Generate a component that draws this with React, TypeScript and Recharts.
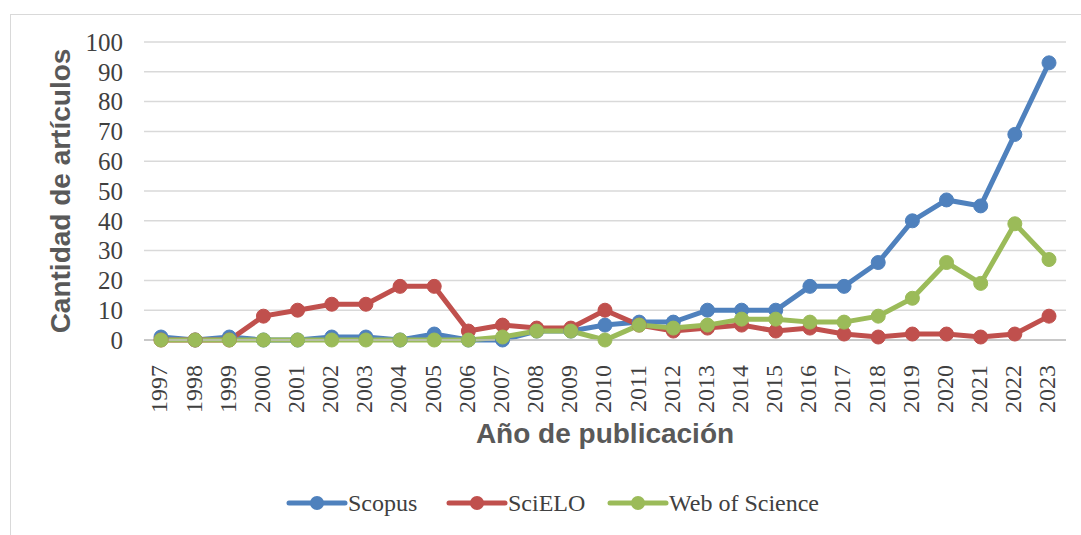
import * as React from "react";
import { CartesianGrid, Legend, Line, LineChart, XAxis, YAxis } from "recharts";

const years = [
  "1997", "1998", "1999", "2000", "2001", "2002", "2003", "2004", "2005",
  "2006", "2007", "2008", "2009", "2010", "2011", "2012", "2013", "2014",
  "2015", "2016", "2017", "2018", "2019", "2020", "2021", "2022", "2023",
];
const scopus = [1, 0, 1, 0, 0, 1, 1, 0, 2, 0, 0, 3, 3, 5, 6, 6, 10, 10, 10, 18, 18, 26, 40, 47, 45, 69, 93];
const scielo = [0, 0, 0, 8, 10, 12, 12, 18, 18, 3, 5, 4, 4, 10, 5, 3, 4, 5, 3, 4, 2, 1, 2, 2, 1, 2, 8];
const wos = [0, 0, 0, 0, 0, 0, 0, 0, 0, 0, 1, 3, 3, 0, 5, 4, 5, 7, 7, 6, 6, 8, 14, 26, 19, 39, 27];
const yTicks = [0, 10, 20, 30, 40, 50, 60, 70, 80, 90, 100];

const series = [
  { key: "scopus", name: "Scopus", color: "#4F81BD" },
  { key: "scielo", name: "SciELO", color: "#C0504D" },
  { key: "wos", name: "Web of Science", color: "#9BBB59" },
];

const data = years.map((year, i) => ({
  year,
  scopus: scopus[i],
  scielo: scielo[i],
  wos: wos[i],
}));

const serif = "Liberation Serif, DejaVu Serif, serif";
const sans = "Liberation Sans, Arial, sans-serif";

function YearTick({ x, y, payload }: any) {
  const ty = y + 17;
  return (
    <text
      x={x - 2}
      y={ty}
      transform={`rotate(-90, ${x - 2}, ${ty})`}
      textAnchor="end"
      dy="0.35em"
      fill="#404040"
      style={{ fontFamily: serif, fontSize: 24 }}
    >
      {payload.value}
    </text>
  );
}

function YTick({ x, y, payload }: any) {
  return (
    <text x={x} y={y} textAnchor="end" dy="0.35em" fill="#404040" style={{ fontFamily: serif, fontSize: 25 }}>
      {payload.value}
    </text>
  );
}

// legend entries are spaced like the original (Excel-style line + marker icon)
function renderLegend() {
  const xs = [289, 449, 610];
  return (
    <svg width={1081} height={30} style={{ display: "block" }}>
      {series.map((s, i) => (
        <g key={s.key}>
          <line x1={xs[i]} x2={xs[i] + 56} y1={15} y2={15} stroke={s.color} strokeWidth={5} strokeLinecap="round" />
          <circle cx={xs[i] + 28} cy={15} r={7} fill={s.color} />
          <text x={xs[i] + 59} y={15} dy="0.35em" fill="#404040" style={{ fontFamily: serif, fontSize: 24 }}>
            {s.name}
          </text>
        </g>
      ))}
    </svg>
  );
}

export default function App() {
  return (
    <div style={{ position: "absolute", left: 0, top: 0, width: 1081, height: 535, overflow: "hidden", background: "#fff" }}>
      <div
        style={{
          position: "absolute",
          left: 10,
          top: 14,
          width: 1100,
          height: 600,
          border: "1px solid #d9d9d9",
        }}
      />
      <LineChart
        width={1081}
        height={535}
        data={data}
        margin={{ top: 42, right: 15, bottom: 65, left: 0 }}
        style={{ position: "absolute", left: 0, top: 0 }}
      >
        <CartesianGrid vertical={false} stroke="#d9d9d9" strokeWidth={1.5} />
        <XAxis
          dataKey="year"
          interval={0}
          height={100}
          padding={{ left: 17, right: 17 }}
          tickLine={false}
          axisLine={{ stroke: "#bfbfbf", strokeWidth: 1.5 }}
          tick={<YearTick />}
          label={{
            value: "Año de publicación",
            content: () => (
              <text
                x={605}
                y={433}
                textAnchor="middle"
                dy="0.35em"
                fill="#595959"
                style={{ fontFamily: sans, fontWeight: "bold", fontSize: 28 }}
              >
                Año de publicación
              </text>
            ),
          }}
        />
        <YAxis
          width={144}
          domain={[0, 100]}
          ticks={yTicks}
          interval={0}
          tickLine={false}
          axisLine={false}
          tickSize={0}
          tickMargin={21}
          tick={<YTick />}
          label={{
            value: "Cantidad de artículos",
            content: ({ viewBox }: any) => {
              const cy = viewBox.y + viewBox.height / 2;
              return (
                <text
                  x={60}
                  y={cy}
                  transform={`rotate(-90, 60, ${cy})`}
                  textAnchor="middle"
                  dy="0.35em"
                  fill="#595959"
                  style={{ fontFamily: sans, fontWeight: "bold", fontSize: 28 }}
                >
                  Cantidad de artículos
                </text>
              );
            },
          }}
        />
        {series.map((s) => (
          <Line
            key={s.key}
            dataKey={s.key}
            name={s.name}
            type="linear"
            stroke={s.color}
            strokeWidth={5}
            dot={{ r: 7, fill: s.color, stroke: s.color, strokeWidth: 1 }}
            activeDot={false}
            isAnimationActive={false}
          />
        ))}
        <Legend
          content={renderLegend}
          wrapperStyle={{ position: "absolute", left: 0, top: 488, width: 1081, height: 30 }}
        />
      </LineChart>
    </div>
  );
}
